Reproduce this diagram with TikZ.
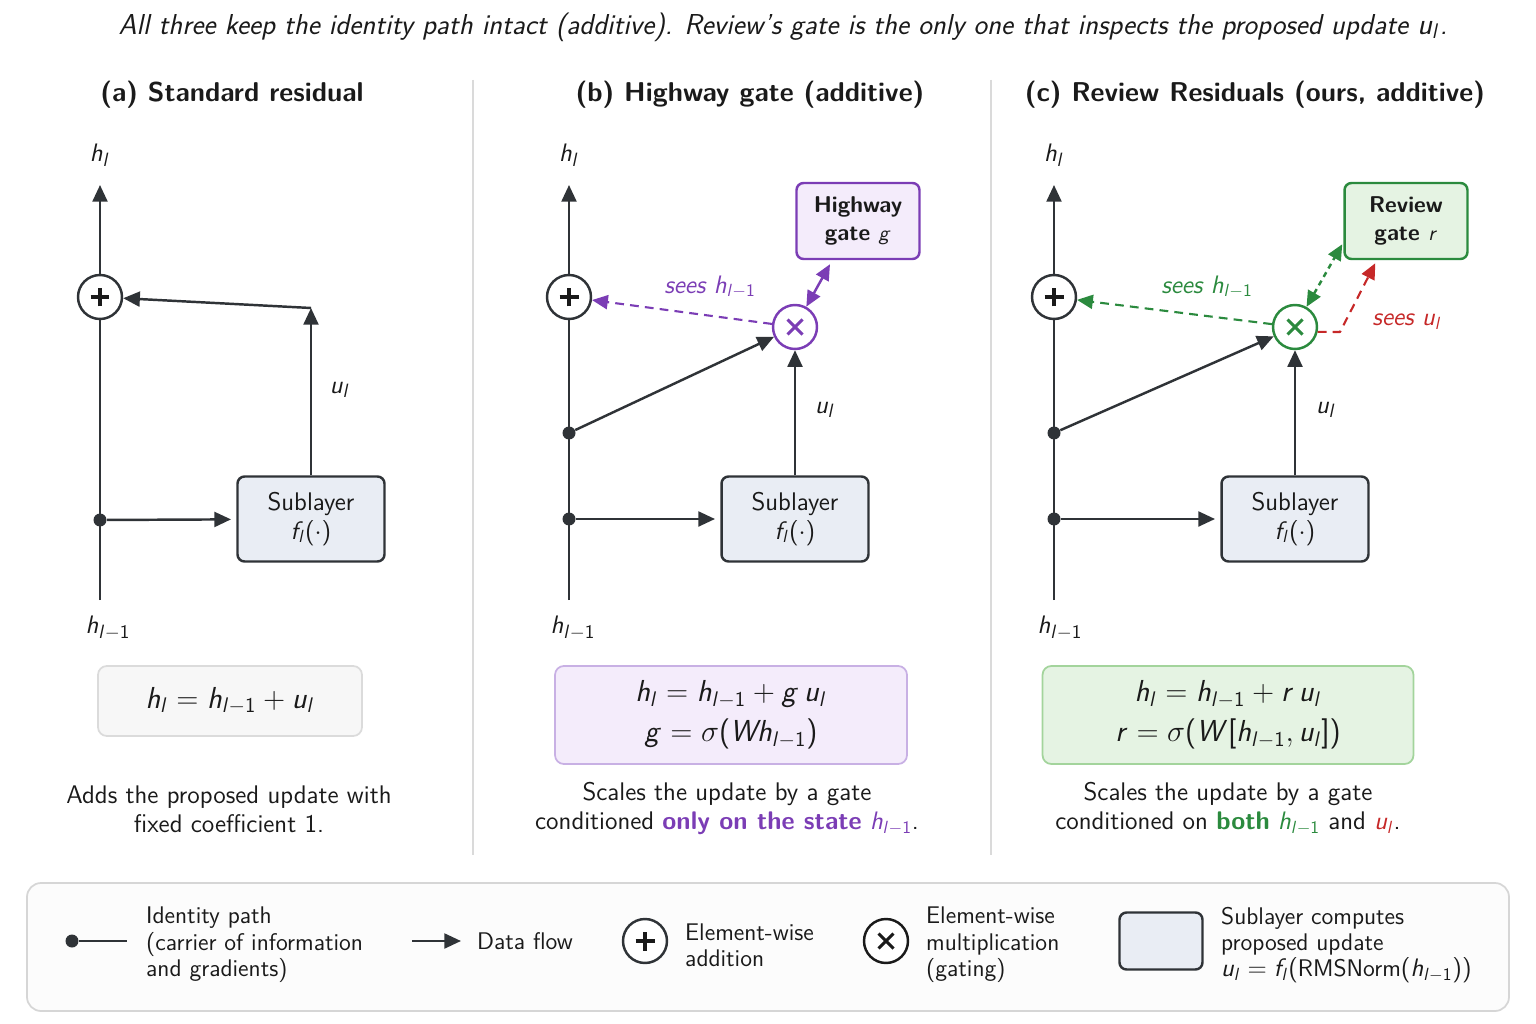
\documentclass[tikz,border=0pt]{standalone}
\usepackage{amsmath}
\usetikzlibrary{arrows.meta}
\renewcommand{\familydefault}{\sfdefault}

% 无衬线数学字母
\DeclareSymbolFont{sfslant}{OT1}{cmss}{m}{sl}
\DeclareSymbolFont{sfup}{OT1}{cmss}{m}{n}
\DeclareMathSymbol{h}{\mathalpha}{sfslant}{`h}
\DeclareMathSymbol{l}{\mathalpha}{sfslant}{`l}
\DeclareMathSymbol{u}{\mathalpha}{sfslant}{`u}
\DeclareMathSymbol{g}{\mathalpha}{sfslant}{`g}
\DeclareMathSymbol{r}{\mathalpha}{sfslant}{`r}
\DeclareMathSymbol{f}{\mathalpha}{sfslant}{`f}
\DeclareMathSymbol{W}{\mathalpha}{sfslant}{`W}
\DeclareMathSymbol{1}{\mathalpha}{sfup}{`1}
\DeclareMathSymbol{(}{\mathopen}{sfup}{`(}
\DeclareMathSymbol{)}{\mathclose}{sfup}{`)}
\DeclareMathSymbol{[}{\mathopen}{sfup}{`[}
\DeclareMathSymbol{]}{\mathclose}{sfup}{`]}
\DeclareMathSymbol{=}{\mathrel}{sfup}{`=}
\DeclareMathSymbol{+}{\mathbin}{sfup}{`+}

\definecolor{ink}{HTML}{2F3337}
\definecolor{txt}{HTML}{1A1A1A}
\definecolor{purp}{HTML}{7B3DB5}
\definecolor{grn}{HTML}{2B8A3E}
\definecolor{redc}{HTML}{C62828}
\definecolor{subfill}{HTML}{E9EDF4}
\definecolor{purfill}{HTML}{F4ECFB}
\definecolor{purline}{HTML}{C8B0E4}
\definecolor{grnfill}{HTML}{E5F3E3}
\definecolor{grnline}{HTML}{A3D49C}
\definecolor{sepc}{HTML}{DADADA}

\begin{document}
\begin{tikzpicture}[x=0.02cm, y=-0.02cm, line join=round,
  every node/.style={font=\fontsize{14.5}{16}\selectfont, text=txt},
  paneltitle/.style={font=\fontsize{15.5}{18}\selectfont\bfseries},
  lbl/.style={font=\fontsize{15}{18}\selectfont},
  idpath/.style={draw=ink, line width=1.4pt},
  flow/.style={draw=ink, line width=1.4pt, -{Triangle[length=9.5pt,width=8.5pt]}},
  seesarrow/.style={line width=1.2pt, dash pattern=on 5pt off 3.5pt, -{Triangle[length=9pt,width=8pt]}},
  dotn/.style={circle, fill=ink, inner sep=0pt, minimum size=0.26cm},
  addop/.style={circle, draw=ink, line width=1.4pt, fill=white, minimum size=0.88cm,
    path picture={\draw[txt, line width=2.4pt]
      ([xshift=-0.19cm]path picture bounding box.center) -- ([xshift=0.19cm]path picture bounding box.center)
      ([yshift=-0.19cm]path picture bounding box.center) -- ([yshift=0.19cm]path picture bounding box.center);}},
  mulop/.style={circle, draw=#1, line width=1.4pt, fill=white, minimum size=0.88cm,
    path picture={\draw[#1, line width=1.7pt]
      ([shift={(-0.15cm,-0.15cm)}]path picture bounding box.center) -- ([shift={(0.15cm,0.15cm)}]path picture bounding box.center)
      ([shift={(-0.15cm,0.15cm)}]path picture bounding box.center) -- ([shift={(0.15cm,-0.15cm)}]path picture bounding box.center);}},
  sublayer/.style={draw=ink, fill=subfill, line width=1.4pt, rounded corners=4pt,
    minimum width=2.94cm, minimum height=1.7cm, align=center},
  gatebox/.style={line width=1.4pt, rounded corners=4pt, minimum width=2.46cm,
    minimum height=1.52cm, align=center, font=\fontsize{13}{15.5}\selectfont\bfseries},
  eqbox/.style={line width=1pt, rounded corners=5pt, align=center,
    font=\fontsize{17.5}{22.7}\selectfont},
  desc/.style={align=center, font=\fontsize{14.5}{16.5}\selectfont},
  legtxt/.style={align=left, anchor=west, font=\fontsize{13.7}{15}\selectfont}]

  \useasboundingbox (0,0) rectangle (1536,1024);

  % 标题与分隔线
  \node[font=\fontsize{16.4}{18}\selectfont] (cap) at (783,27) {\itshape All three keep the identity path intact (additive). Review's gate is the only one that inspects the proposed update $u_l$.};
  \node[paneltitle] (titA) at (232,95) {(a) Standard residual};
  \node[paneltitle] (titB) at (750,95) {(b) Highway gate (additive)};
  \node[paneltitle] (titC) at (1255,95) {(c) Review Residuals (ours, additive)};
  \draw[sepc, line width=1pt] (473,80) -- (473,855);
  \draw[sepc, line width=1pt] (991,80) -- (991,855);

  % (a) 标准残差
  \coordinate (botA) at (100,600);
  \coordinate (topA) at (100,185);
  \coordinate (turnA) at (311,308);
  \node[addop] (plusA) at (100,297) {};
  \node[dotn] (dotA) at (100,520) {};
  \node[sublayer] (subA) at (311,519) {Sublayer\\$f_l(\cdot)$};
  \draw[idpath] (botA) -- (plusA);
  \draw[flow] (plusA) -- (topA);
  \draw[flow, shorten >=3pt] (dotA) -- (subA);
  \draw[flow] (subA) -- (turnA);
  \draw[flow] (turnA) -- (plusA);
  \node[lbl] (hA) at (100,155) {$h_l$};
  \node[lbl] (hA0) at (108,628) {$h_{l-1}$};
  \node[lbl] (uA) at (340,390) {$u_l$};
  \node[eqbox, draw=black!14, fill=black!3, minimum width=5.28cm, minimum height=1.4cm] (eqA) at (230,701) {$h_l = h_{l-1} + u_l$};
  \node[desc] (txtA) at (229,809) {Adds the proposed update with\\fixed coefficient 1.};

  % (b) Highway 门
  \coordinate (botB) at (569,600);
  \coordinate (topB) at (569,185);
  \node[addop] (plusB) at (569,297) {};
  \node[dotn] (dotB1) at (569,433) {};
  \node[dotn] (dotB2) at (569,519) {};
  \node[sublayer] (subB) at (795,519) {Sublayer\\$f_l(\cdot)$};
  \node[mulop=purp] (mulB) at (795,327) {};
  \node[gatebox, draw=purp, fill=purfill] (gateB) at (858,221) {Highway\\gate $g$};
  \draw[idpath] (botB) -- (plusB);
  \draw[flow] (plusB) -- (topB);
  \draw[flow, shorten >=3pt] (dotB2) -- (subB);
  \draw[flow] (dotB1) -- (mulB);
  \draw[flow] (subB) -- (mulB);
  \draw[seesarrow, purp] (mulB) -- (plusB);
  \draw[purp, line width=1.4pt, {Triangle[length=9pt,width=8pt]}-{Triangle[length=9pt,width=8pt]}] (mulB) -- ([shift={(-28,4)}]gateB.south);
  \node[lbl] (hB) at (569,155) {$h_l$};
  \node[lbl] (hB0) at (573,628) {$h_{l-1}$};
  \node[lbl] (uB) at (825,410) {$u_l$};
  \node[text=purp] (seeB) at (710,287) {\itshape sees $h_{l-1}$};
  \node[eqbox, draw=purline, fill=purfill, minimum width=7.04cm, minimum height=1.96cm] (eqB) at (731,715) {$h_l = h_{l-1} + g\,u_l$\\$g = \sigma(W h_{l-1})$};
  \node[desc] (txtB) at (727,809) {Scales the update by a gate\\conditioned \textcolor{purp}{\bfseries only on the state} \textcolor{purp}{$h_{l-1}$}.};

  % (c) Review 残差
  \coordinate (botC) at (1054,600);
  \coordinate (topC) at (1054,185);
  \coordinate (kneeC) at (1340,332);
  \node[addop] (plusC) at (1054,297) {};
  \node[dotn] (dotC1) at (1054,433) {};
  \node[dotn] (dotC2) at (1054,519) {};
  \node[sublayer] (subC) at (1295,519) {Sublayer\\$f_l(\cdot)$};
  \node[mulop=grn] (mulC) at (1295,327) {};
  \node[gatebox, draw=grn, fill=grnfill] (gateC) at (1406,221) {Review\\gate $r$};
  \draw[idpath] (botC) -- (plusC);
  \draw[flow] (plusC) -- (topC);
  \draw[flow, shorten >=3pt] (dotC2) -- (subC);
  \draw[flow] (dotC1) -- (mulC);
  \draw[flow] (subC) -- (mulC);
  \draw[seesarrow, grn] (mulC) -- (plusC);
  \draw[grn, line width=1.4pt, dash pattern=on 3pt off 2.5pt, {Triangle[length=9pt,width=8pt]}-{Triangle[length=9pt,width=8pt]}] (mulC) -- ([shift={(-1,-16)}]gateC.south west);
  \draw[seesarrow, redc] (mulC.-12) -- (kneeC) -- ([shift={(32,3)}]gateC.south west);
  \node[lbl] (hC) at (1054,155) {$h_l$};
  \node[lbl] (hC0) at (1060,628) {$h_{l-1}$};
  \node[lbl] (uC) at (1326,410) {$u_l$};
  \node[text=grn] (seeC) at (1207,287) {\itshape sees $h_{l-1}$};
  \node[text=redc] (seeCu) at (1407,322) {\itshape sees $u_l$};
  \node[eqbox, draw=grnline, fill=grnfill, minimum width=7.42cm, minimum height=1.96cm] (eqC) at (1228,715) {$h_l = h_{l-1} + r\,u_l$\\$r = \sigma(W[h_{l-1}, u_l])$};
  \node[desc] (txtC) at (1228,809) {Scales the update by a gate\\conditioned on \textcolor{grn}{\bfseries both} \textcolor{grn}{$h_{l-1}$} and \textcolor{redc}{$u_l$}.};

  % 图例
  \draw[black!16, fill=black!1, line width=1pt, rounded corners=8pt] (27,883) rectangle (1509,1011);
  \coordinate (legEnd) at (127,941);
  \coordinate (legF0) at (412,941);
  \coordinate (legF1) at (461,941);
  \node[dotn] (legDot) at (72,941) {};
  \draw[idpath] (legDot) -- (legEnd);
  \node[legtxt] (legT1) at (140,945) {Identity path\\(carrier of information\\and gradients)};
  \draw[flow] (legF0) -- (legF1);
  \node[legtxt] (legT2) at (471,941) {Data flow};
  \node[addop] (legAdd) at (645,941) {};
  \node[legtxt] (legT3) at (679,945) {Element-wise\\addition};
  \node[mulop=txt] (legMul) at (886,941) {};
  \node[legtxt] (legT4) at (920,945) {Element-wise\\multiplication\\(gating)};
  \node[sublayer, minimum width=1.66cm, minimum height=1.14cm] (legSub) at (1161,941) {};
  \node[legtxt] (legT5) at (1215,945) {Sublayer computes\\proposed update\\$u_l = f_l(\text{RMSNorm}(h_{l-1}))$};
\end{tikzpicture}
\end{document}
